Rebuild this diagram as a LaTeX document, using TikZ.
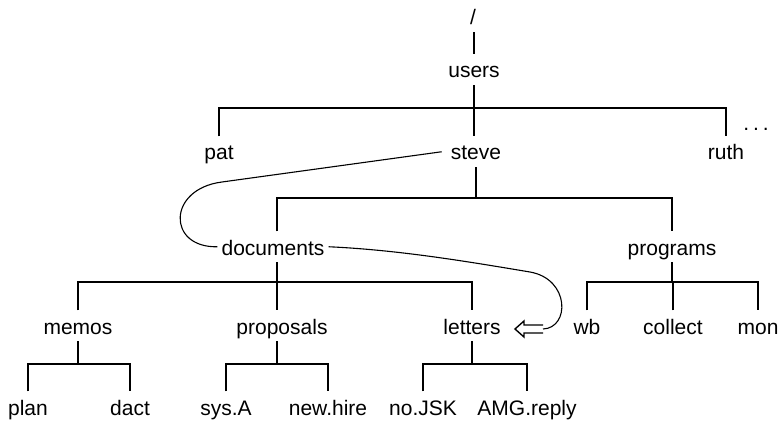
\documentclass[tikz,border=0pt]{standalone}
\usepackage{fontspec}
\setmainfont{Liberation Sans}
\begin{document}
\begin{tikzpicture}[x=1pt,y=-1pt,
  lbl/.style={font=\fontsize{21}{25}\selectfont, text height=21pt, text depth=4.5pt, inner ysep=2.5pt, inner xsep=4pt, anchor=base},
  tree/.style={line width=1.8pt, line cap=butt},
  link/.style={line width=1.1pt},
  dblarrow/.style={line width=1.4pt, line join=miter},
]
\useasboundingbox (0,0) rectangle (779,422);
% levels
\coordinate (y1) at (0,108);
\coordinate (y2) at (0,198);
\coordinate (y3) at (0,282);
\coordinate (y4) at (0,364);
\coordinate (dv) at (277,0);
% nodes
\node[lbl] (root) at (473,25) {/};
\node[lbl] (users) at (474,78) {users};
\node[lbl] (pat) at (219,160) {pat};
\node[lbl] (steve) at (476,160) {steve};
\node[lbl] (ruth) at (726,160) {ruth};
\node[lbl] (dots) at (756,131) {.\hspace{4pt}.\hspace{4pt}.};
\node[lbl] (documents) at (273,255) {documents};
\node[lbl] (programs) at (672,255) {programs};
\node[lbl] (memos) at (78,334) {memos};
\node[lbl] (proposals) at (282,334) {proposals};
\node[lbl] (letters) at (472,334) {letters};
\node[lbl] (wb) at (587,334) {wb};
\node[lbl] (collect) at (673,334) {collect};
\node[lbl] (mon) at (758,334) {mon};
\node[lbl] (plan) at (28,415) {plan};
\node[lbl] (dact) at (130,415) {dact};
\node[lbl] (sysA) at (226,415) {sys.A};
\node[lbl] (newhire) at (328,415) {new.hire};
\node[lbl] (noJSK) at (423,415) {no.JSK};
\node[lbl] (AMG) at (527,415) {AMG.reply};
% tree connectors
\draw[tree] (root.south -| users.south) -- (users.north);
\draw[tree] (users.south) -- (users.south |- steve.north);
\draw[tree] (pat.north) -- (pat.north |- y1) -- (ruth.north |- y1) -- (ruth.north);
\draw[tree] (steve.south) -- (steve.south |- y2);
\draw[tree] (documents.north -| dv) -- (dv |- y2) -- (programs.north |- y2) -- (programs.north);
\draw[tree] (documents.south -| dv) -- (proposals.north -| dv);
\draw[tree] (memos.north) -- (memos.north |- y3) -- (letters.north |- y3) -- (letters.north);
\draw[tree] (programs.south) -- (programs.south |- y3);
\draw[tree] (wb.north) -- (wb.north |- y3) -- (mon.north |- y3) -- (mon.north);
\draw[tree] (collect.north) -- (collect.north |- y3);
\draw[tree] (memos.south) -- (memos.south |- y4);
\draw[tree] (plan.north) -- (plan.north |- y4) -- (dact.north |- y4) -- (dact.north);
\draw[tree] (proposals.south -| dv) -- (dv |- y4);
\draw[tree] (sysA.north) -- (sysA.north |- y4) -- (newhire.north |- y4) -- (newhire.north);
\draw[tree] (letters.south) -- (letters.south |- y4);
\draw[tree] (noJSK.north) -- (noJSK.north |- y4) -- (AMG.north |- y4) -- (AMG.north);
% links
\coordinate (tail) at (543,329);
\coordinate (tip) at (515,329);
\draw[link] ([xshift=-5pt]steve.west) -- (222,182) .. controls (167,189) and (167,248) .. (documents.west);
\draw[link] (documents.east) .. controls (400,250) and (470,262) .. (530,272) .. controls (570,279) and (570,328) .. (tail);
\draw[dblarrow] ([yshift=-4pt]tail) -- ([xshift=9pt,yshift=-4pt]tip) -- ([xshift=9pt,yshift=-8pt]tip) -- (tip) -- ([xshift=9pt,yshift=8pt]tip) -- ([xshift=9pt,yshift=4pt]tip) -- ([yshift=4pt]tail);
\end{tikzpicture}
\end{document}
